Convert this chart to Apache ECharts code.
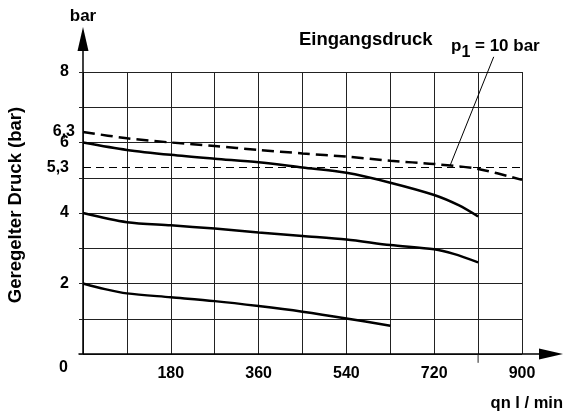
<!DOCTYPE html>
<html>
<head>
<meta charset="utf-8">
<script src="https://cdn.jsdelivr.net/npm/echarts@6/dist/echarts.min.js"></script>
<style>
html,body{margin:0;padding:0;background:#fff;}
#c{width:565px;height:416px;}
</style>
</head>
<body>
<div id="c"></div>
<script>
// Data
const qEingang = [0, 90, 180, 270, 360, 450, 540, 630, 720, 810, 900];
const pEingang = [6.3, 6.12, 6.0, 5.9, 5.79, 5.69, 5.6, 5.48, 5.39, 5.25, 4.94];
const q6 = [0, 90, 180, 270, 360, 450, 540, 630, 720, 770, 810];
const p6 = [6.0, 5.79, 5.65, 5.54, 5.44, 5.29, 5.14, 4.86, 4.51, 4.22, 3.9];
const q4 = [0, 90, 180, 270, 360, 450, 540, 630, 720, 760, 810];
const p4 = [4.0, 3.74, 3.65, 3.56, 3.45, 3.35, 3.25, 3.09, 2.97, 2.84, 2.6];
const q2 = [0, 45, 90, 180, 270, 360, 450, 540, 630];
const p2 = [2.0, 1.84, 1.72, 1.61, 1.5, 1.36, 1.2, 1.01, 0.8];
const refLine = 5.3;              // reference line value
const startEingang = 6.3;         // labelled start value of Eingangsdruck
const pointerQ = [753, 842];      // leader line for "p1 = 10 bar"
const pointerP = [5.36, 8.43];
const tickExtQ = [810, 810];      // grid line at 810 running below the axis
const tickExtP = [0, -0.25];
const gridExtQ = [900, 915];      // 5-bar grid line running past 900
const gridExtP = [5, 5];
const xTickLabels = [180, 360, 540, 720, 900];
const yTickLabels = [2, 4, 6, 8];

const FONT = '"Liberation Sans", Arial, Helvetica, sans-serif';
const zip = (a, b) => a.map((v, i) => [v, b[i]]);
const comma = v => String(v).replace('.', ',');

const chart = echarts.init(document.getElementById('c'), null, {renderer: 'canvas'});

const lineCommon = {
  type: 'line', xAxisIndex: 0, yAxisIndex: 0, showSymbol: false, symbol: 'none',
  smooth: 0.3, silent: true
};
const thinExtra = (data) => ({
  type: 'line', xAxisIndex: 0, yAxisIndex: 0, smooth: false, clip: false, silent: true,
  symbol: 'none', showSymbol: false, lineStyle: {color: '#222', width: 1}, data: data
});

chart.setOption({
  animation: false,
  backgroundColor: '#fff',
  grid: [
    {left: 83, right: 43, top: 72, bottom: 62},   // main plot
    {left: 79, right: 14, top: 72, bottom: 62},   // x-axis arrow
    {left: 83, right: 43, top: 39, bottom: 62}    // y-axis arrow
  ],
  xAxis: [
    {
      gridIndex: 0, type: 'value', min: 0, max: 900, interval: 90,
      axisLine: {show: false},
      axisTick: {show: false},
      splitLine: {show: true, lineStyle: {color: '#222', width: 1}},
      axisLabel: {
        margin: 12, color: '#000', fontFamily: FONT, fontWeight: 'bold', fontSize: 16,
        formatter: v => xTickLabels.indexOf(v) >= 0 ? String(v) : ''
      }
    },
    {
      gridIndex: 1, type: 'value', min: 0, max: 1,
      axisLine: {show: true, symbol: ['none', 'triangle'], symbolSize: [11, 24],
        lineStyle: {color: '#000', width: 1.5}},
      axisTick: {show: false}, axisLabel: {show: false}, splitLine: {show: false}
    },
    {
      gridIndex: 2, type: 'value', min: 0, max: 1, show: false
    }
  ],
  yAxis: [
    {
      gridIndex: 0, type: 'value', min: 0, max: 8, interval: 1,
      name: 'bar', nameLocation: 'end', nameGap: 47,
      nameTextStyle: {color: '#000', fontFamily: FONT, fontWeight: 'bold', fontSize: 17, align: 'center'},
      axisLine: {show: false},
      axisTick: {show: true, inside: false, length: 4, lineStyle: {color: '#222', width: 1}},
      splitLine: {show: true, lineStyle: {color: '#222', width: 1}},
      axisLabel: {
        margin: 14, color: '#000', fontFamily: FONT, fontWeight: 'bold', fontSize: 16,
        formatter: v => yTickLabels.indexOf(v) >= 0 ? String(v) : ''
      }
    },
    {
      gridIndex: 0, type: 'value', min: 0, max: 8, interval: 0.1, position: 'left',
      axisLine: {show: false}, axisTick: {show: false}, splitLine: {show: false},
      axisLabel: {
        show: true, margin: 8, color: '#000', fontFamily: FONT, fontWeight: 'bold', fontSize: 16,
        showMinLabel: true, showMaxLabel: true, hideOverlap: false, interval: 0,
        padding: [0, 0, 3, 0],
        formatter: v => Math.abs(v - startEingang) < 1e-6 ? comma(startEingang) : ''
      }
    },
    {gridIndex: 1, type: 'value', min: 0, max: 1, show: false},
    {
      gridIndex: 2, type: 'value', min: 0, max: 1,
      axisLine: {show: true, symbol: ['none', 'triangle'], symbolSize: [11, 24],
        lineStyle: {color: '#000', width: 1.5}},
      axisTick: {show: false}, axisLabel: {show: false}, splitLine: {show: false}
    }
  ],
  graphic: [
    {type: 'text', left: 299, top: 30, style: {text: 'Eingangsdruck', fill: '#000',
      font: 'bold 18.5px ' + FONT}},
    {type: 'text', x: 451, y: 46, style: {text: 'p', fill: '#000', verticalAlign: 'middle',
      font: 'bold 17px ' + FONT}},
    {type: 'text', x: 461.5, y: 52.5, style: {text: '1', fill: '#000', verticalAlign: 'middle',
      font: 'bold 16px ' + FONT}},
    {type: 'text', x: 475, y: 46, style: {text: '= 10 bar', fill: '#000', verticalAlign: 'middle',
      font: 'bold 17px ' + FONT}},
    {type: 'text', right: 2, top: 395, style: {text: 'qn l / min', fill: '#000',
      font: 'bold 16.5px ' + FONT}},
    {type: 'text', x: 68, y: 368, style: {text: '0', fill: '#000', align: 'right', verticalAlign: 'middle',
      font: 'bold 16px ' + FONT}},
    {type: 'text', x: 16, y: 205, rotation: Math.PI / 2,
      style: {text: 'Geregelter Druck (bar)', fill: '#000', align: 'center', verticalAlign: 'middle',
      font: 'bold 18.5px ' + FONT}}
  ],
  series: [
    thinExtra(zip(tickExtQ, tickExtP)),
    thinExtra(zip(gridExtQ, gridExtP)),
    Object.assign({}, lineCommon, {
      name: 'Eingangsdruck', data: zip(qEingang, pEingang),
      lineStyle: {color: '#000', width: 2.5, type: [12, 6]},
      markLine: {
        silent: true, symbol: 'none',
        lineStyle: {color: '#000', width: 1, type: [8, 5]},
        label: {show: true, position: 'start', distance: 14, formatter: comma(refLine),
          color: '#000', fontFamily: FONT, fontWeight: 'bold', fontSize: 16},
        data: [{yAxis: refLine}]
      }
    }),
    Object.assign({}, lineCommon, {name: '6 bar', data: zip(q6, p6), lineStyle: {color: '#000', width: 2.5}}),
    Object.assign({}, lineCommon, {name: '4 bar', data: zip(q4, p4), lineStyle: {color: '#000', width: 2.5}}),
    Object.assign({}, lineCommon, {name: '2 bar', data: zip(q2, p2), lineStyle: {color: '#000', width: 2.5}}),
    {
      type: 'line', xAxisIndex: 0, yAxisIndex: 0, smooth: false, clip: false, silent: true,
      symbol: 'none', showSymbol: false,
      lineStyle: {color: '#000', width: 1},
      data: zip(pointerQ, pointerP)
    }
  ]
});
</script>
</body>
</html>
